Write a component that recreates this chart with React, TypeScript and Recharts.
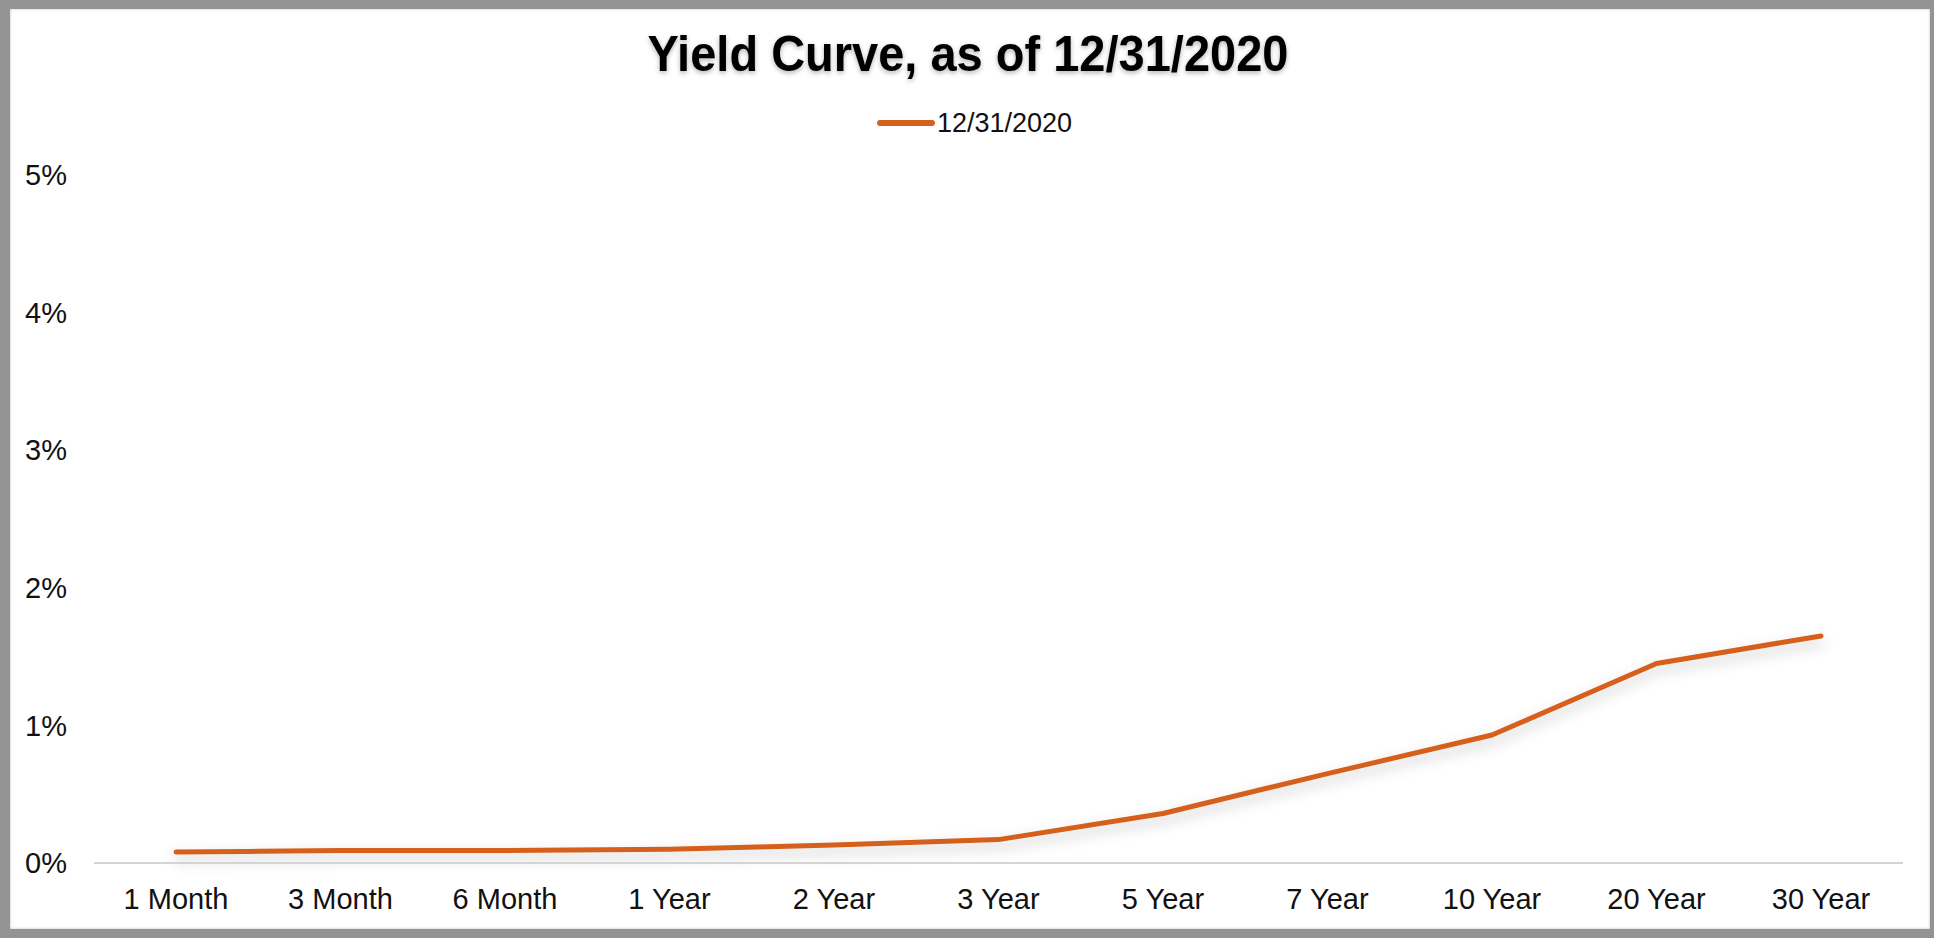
import React from 'react';
import { LineChart, Line, XAxis, YAxis, Legend } from 'recharts';

const maturities = ['1 Month', '3 Month', '6 Month', '1 Year', '2 Year', '3 Year', '5 Year', '7 Year', '10 Year', '20 Year', '30 Year'];
const yields20201231 = [0.08, 0.09, 0.09, 0.10, 0.13, 0.17, 0.36, 0.65, 0.93, 1.45, 1.65];
const yTicks = [0, 1, 2, 3, 4, 5];
const seriesName = '12/31/2020';
const chartTitle = 'Yield Curve, as of 12/31/2020';

const data = maturities.map((m, i) => ({ maturity: m, value: yields20201231[i] }));

const ORANGE = '#D65F1B';
const FONT = '"Liberation Sans", Arial, Helvetica, sans-serif';

const LegendContent = () => (
  <div style={{ display: 'flex', alignItems: 'center', height: 30, fontFamily: FONT }}>
    <svg width={60} height={30} style={{ display: 'block' }}>
      <line x1={3} y1={15} x2={55} y2={15} stroke={ORANGE} strokeWidth={6} strokeLinecap="round" />
    </svg>
    <span style={{ fontSize: 27, lineHeight: '30px', color: '#111', whiteSpace: 'nowrap' }}>{seriesName}</span>
  </div>
);

export default function App() {
  return (
    <div style={{ position: 'relative', width: 1934, height: 938, background: '#939393', overflow: 'hidden' }}>
      <style>{`body{margin:0} .yc-line .recharts-line-curve{filter: drop-shadow(0px 6px 7px rgba(0,0,0,0.22));}`}</style>
      <div
        style={{
          position: 'absolute',
          left: 10,
          top: 9,
          width: 1920,
          height: 920,
          background: '#ffffff',
          boxShadow: 'inset 0 0 3px rgba(0,0,0,0.25)',
        }}
      />
      <div
        style={{
          position: 'absolute',
          left: 0,
          top: 31,
          width: 1936,
          textAlign: 'center',
          fontFamily: FONT,
          fontWeight: 'bold',
          fontSize: 47,
          lineHeight: '47px',
          color: '#000',
          textShadow: '0 2px 5px rgba(0,0,0,0.3)',
          whiteSpace: 'nowrap',
          transform: 'scaleY(1.08)',
          transformOrigin: '50% 85%',
        }}
      >
        {chartTitle}
      </div>
      <div style={{ position: 'absolute', left: 0, top: 0 }}>
        <LineChart width={1934} height={938} data={data} margin={{ top: 175, right: 31, bottom: 15, left: 0 }}>
          <XAxis
            dataKey="maturity"
            padding={{ left: 82, right: 82 }}
            height={60}
            tickLine={false}
            tickSize={0}
            tickMargin={25}
            axisLine={{ stroke: '#d4d4d4', strokeWidth: 2 }}
            tick={{ fontSize: 29, fill: '#111', fontFamily: FONT }}
            interval={0}
          />
          <YAxis
            width={94}
            domain={[0, 5]}
            ticks={yTicks}
            tickFormatter={(v: number) => `${v}%`}
            tickLine={false}
            tickSize={0}
            tickMargin={27}
            axisLine={false}
            tick={{ fontSize: 29, fill: '#111', fontFamily: FONT }}
          />
          <Legend
            layout="horizontal"
            verticalAlign="middle"
            align="center"
            content={() => <LegendContent />}
            wrapperStyle={{ top: 108, left: 877, width: 'auto', height: 30 }}
          />
          <Line
            className="yc-line"
            type="linear"
            dataKey="value"
            name={seriesName}
            stroke={ORANGE}
            strokeWidth={5}
            strokeLinecap="round"
            strokeLinejoin="round"
            dot={false}
            activeDot={false}
            isAnimationActive={false}
          />
        </LineChart>
      </div>
    </div>
  );
}
